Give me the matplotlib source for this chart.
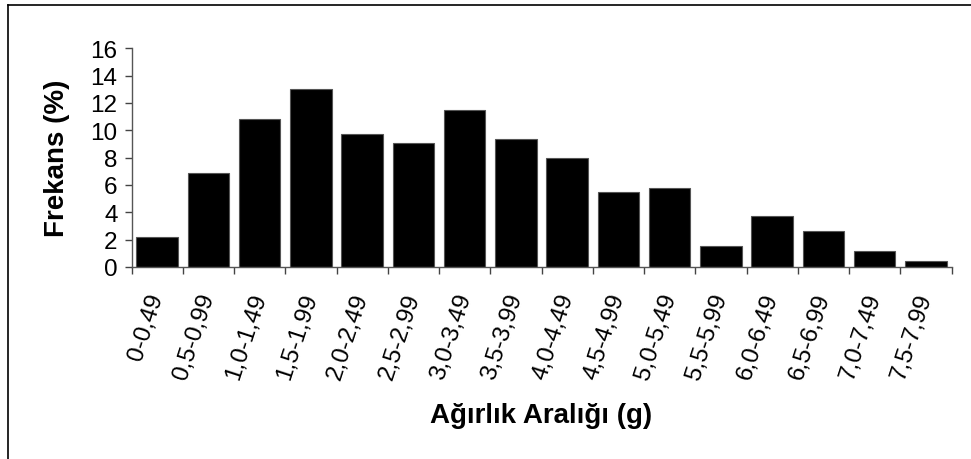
import numpy as np
import matplotlib.pyplot as plt

plt.rcParams['font.family'] = ['Liberation Sans', 'DejaVu Sans']

# weight classes and frequencies (%)
classes = ['0-0,49', '0,5-0,99', '1,0-1,49', '1,5-1,99', '2,0-2,49', '2,5-2,99',
           '3,0-3,49', '3,5-3,99', '4,0-4,49', '4,5-4,99', '5,0-5,49', '5,5-5,99',
           '6,0-6,49', '6,5-6,99', '7,0-7,49', '7,5-7,99']
freq = [2.2, 6.9, 10.8, 13.0, 9.75, 9.05, 11.5, 9.4, 8.0, 5.5, 5.8, 1.5,
        3.7, 2.6, 1.15, 0.45]
yticks = [0, 2, 4, 6, 8, 10, 12, 14, 16]

W, H = 971, 460
fig = plt.figure(figsize=(W/100, H/100), dpi=100)
ax = fig.add_axes([131.5/W, 1-268/H, (951.5-131.5)/W, (268-49.3)/H])

x = np.arange(len(classes))
ax.bar(x, freq, width=0.81, color='black', edgecolor='#555555', linewidth=0.8)

ax.set_xlim(-0.5, len(classes) - 0.5)
ax.set_ylim(0, 16)
ax.set_yticks(yticks)
ax.set_yticklabels([str(v) for v in yticks], fontsize=17.5)

# ticks between categories, labels centred under bars
ax.set_xticks(np.arange(len(classes) + 1) - 0.5)
ax.set_xticklabels([])
ax.set_xticks(x, minor=True)
ax.set_xticklabels(classes, minor=True, rotation=72, ha='right', va='center',
                   rotation_mode='anchor', fontsize=17.5)
ax.tick_params(axis='x', which='minor', length=0, pad=19)
ax.tick_params(axis='x', which='major', length=5, width=1, color='#444444')
ax.tick_params(axis='y', length=5, width=1, color='#444444', pad=5)

for s in ['top', 'right']:
    ax.spines[s].set_visible(False)
for s in ['left', 'bottom']:
    ax.spines[s].set_color('#555555')
    ax.spines[s].set_linewidth(1)

fig.text(57.5/W, 1-158.5/H, 'Frekans (%)', fontsize=20, fontweight='bold',
         rotation=90, ha='center', va='center')
fig.text(541.5/W, 1-423/H, 'Ağırlık Aralığı (g)', fontsize=20,
         fontweight='bold', ha='center', va='baseline')

# chart area border (top and left visible)
fig.add_artist(plt.Line2D([8/W, 1], [1-6/H, 1-6/H], color='black', lw=1.2))
fig.add_artist(plt.Line2D([8/W, 8/W], [0, 1-6/H], color='black', lw=1.2))

fig.savefig('out.png', dpi=100)
